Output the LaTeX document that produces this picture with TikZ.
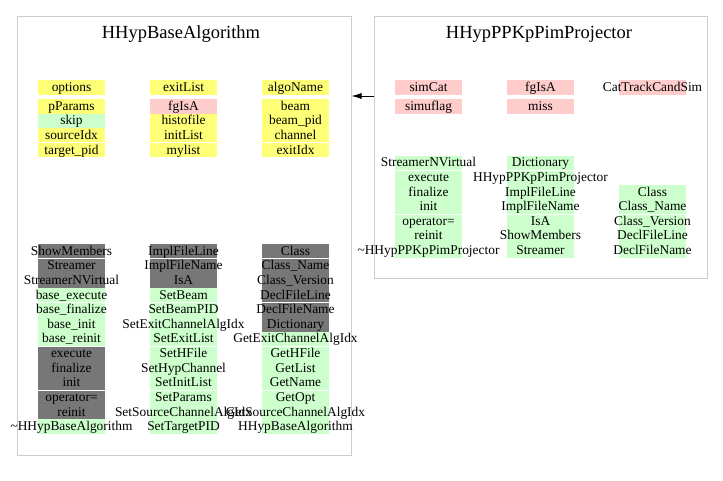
\documentclass[tikz,border=0pt]{standalone}
\usepackage{fontspec}
\setmainfont{Liberation Serif}
\usetikzlibrary{arrows.meta}
\definecolor{yel}{HTML}{FFFF77}
\definecolor{pnk}{HTML}{FFCCCC}
\definecolor{grn}{HTML}{CCFFCC}
\definecolor{gry}{HTML}{777777}
\definecolor{frm}{HTML}{CCCCCC}
\begin{document}
\begin{tikzpicture}[x=1pt,y=-1pt,
  cell/.style={rectangle, anchor=north west, minimum width=67pt, minimum height=14.6pt,
    inner sep=0pt, outer sep=0pt, font=\fontsize{13.4}{14}\selectfont, text height=10pt, text depth=2pt},
  sep/.style={white, line width=1pt},
  frame/.style={draw=frm, line width=1pt, rectangle, anchor=north west, inner sep=0pt},
  title/.style={font=\fontsize{18.5}{20}\selectfont, anchor=base, inner sep=0pt},
  arr/.style={line width=0.8pt, -{Latex[length=10pt,width=6pt]}}]
\useasboundingbox (0,0) rectangle (723,481);
\fill[white] (0,0) rectangle (723,481);
% frames
\node[frame, minimum width=334pt, minimum height=439pt] (LB) at (16.5,16) {};
\node[frame, minimum width=333pt, minimum height=262pt] (RB) at (374,16) {};
\node[title] (LT) at (181,38.5) {HHypBaseAlgorithm};
\node[title] (RT) at (539,38.5) {HHypPPKpPimProjector};
% arrow
\coordinate (ay) at (0,96);
\draw[arr] (ay -| RB.west) -- (ay -| LB.east);
% ---------- left top
\foreach \i/\yy/\c/\t in {0/80/yel/options,1/99/yel/pParams,2/113.6/grn/skip,3/128.2/yel/sourceIdx,4/142.8/yel/target\_pid}
  \node[cell, fill=\c] (LA1-\i) at (38,\yy) {\makebox[0pt]{\t}};
\foreach \i/\yy/\c/\t in {0/80/yel/exitList,1/99/pnk/fgIsA,2/113.6/yel/histofile,3/128.2/yel/initList,4/142.8/yel/mylist}
  \node[cell, fill=\c] (LA2-\i) at (150,\yy) {\makebox[0pt]{\t}};
\foreach \i/\yy/\c/\t in {0/80/yel/algoName,1/99/yel/beam,2/113.6/yel/beam\_pid,3/128.2/yel/channel,4/142.8/yel/exitIdx}
  \node[cell, fill=\c] (LA3-\i) at (262,\yy) {\makebox[0pt]{\t}};
\foreach \x in {38,150,262}
  \draw[sep] (\x,142.8) -- ++(67,0);
% ---------- left bottom
\foreach \i/\c/\t in {0/gry/ShowMembers,1/gry/Streamer,2/gry/StreamerNVirtual,3/grn/base\_execute,
  4/grn/base\_finalize,5/grn/base\_init,6/grn/base\_reinit,7/gry/execute,8/gry/finalize,9/gry/init,
  10/gry/operator=,11/gry/reinit,12/grn/\textasciitilde HHypBaseAlgorithm}
  \node[cell, fill=\c] (LB1-\i) at (38,244+14.615*\i) {\makebox[0pt]{\t}};
\foreach \i/\c/\t in {0/gry/ImplFileLine,1/gry/ImplFileName,2/gry/IsA,3/grn/SetBeam,
  4/grn/SetBeamPID,5/grn/SetExitChannelAlgIdx,6/grn/SetExitList,7/grn/SetHFile,8/grn/SetHypChannel,9/grn/SetInitList,
  10/grn/SetParams,11/grn/SetSourceChannelAlgIdx,12/grn/SetTargetPID}
  \node[cell, fill=\c] (LB2-\i) at (150,244+14.615*\i) {\makebox[0pt]{\t}};
\foreach \i/\c/\t in {0/gry/Class,1/gry/Class\_Name,2/gry/Class\_Version,3/gry/DeclFileLine,
  4/gry/DeclFileName,5/gry/Dictionary,6/grn/GetExitChannelAlgIdx,7/grn/GetHFile,8/grn/GetList,9/grn/GetName,
  10/grn/GetOpt,11/grn/GetSourceChannelAlgIdx,12/grn/HHypBaseAlgorithm}
  \node[cell, fill=\c] (LB3-\i) at (262,244+14.615*\i) {\makebox[0pt]{\t}};
\foreach \x in {38,150,262}
  \foreach \r in {1,4,7,10}
    \draw[sep] (\x,244+14.615*\r) -- ++(67,0);
% ---------- right top
\node[cell, fill=pnk] (RA1-0) at (395,80) {\makebox[0pt]{simCat}};
\node[cell, fill=pnk] (RA1-1) at (395,99) {\makebox[0pt]{simuflag}};
\node[cell, fill=pnk] (RA2-0) at (507,80) {\makebox[0pt]{fgIsA}};
\node[cell, fill=pnk] (RA2-1) at (507,99) {\makebox[0pt]{miss}};
\node[cell, fill=pnk] (RA3-0) at (619,80) {\makebox[0pt]{CatTrackCandSim}};
% ---------- right bottom
\foreach \i/\t in {0/StreamerNVirtual,1/execute,2/finalize,3/init,4/operator=,5/reinit,6/\textasciitilde HHypPPKpPimProjector}
  \node[cell, fill=grn] (RB1-\i) at (395,155.7+14.6*\i) {\makebox[0pt]{\t}};
\foreach \i/\t in {0/Dictionary,1/HHypPPKpPimProjector,2/ImplFileLine,3/ImplFileName,4/IsA,5/ShowMembers,6/Streamer}
  \node[cell, fill=grn] (RB2-\i) at (507,155.7+14.6*\i) {\makebox[0pt]{\t}};
\foreach \i/\t in {2/Class,3/Class\_Name,4/Class\_Version,5/DeclFileLine,6/DeclFileName}
  \node[cell, fill=grn] (RB3-\i) at (619,155.7+14.6*\i) {\makebox[0pt]{\t}};
\foreach \x in {395,507}
  \foreach \r in {1,4}
    \draw[sep] (\x,155.7+14.6*\r) -- ++(67,0);
\draw[sep] (619,155.7+14.6*4) -- ++(67,0);
\end{tikzpicture}
\end{document}
